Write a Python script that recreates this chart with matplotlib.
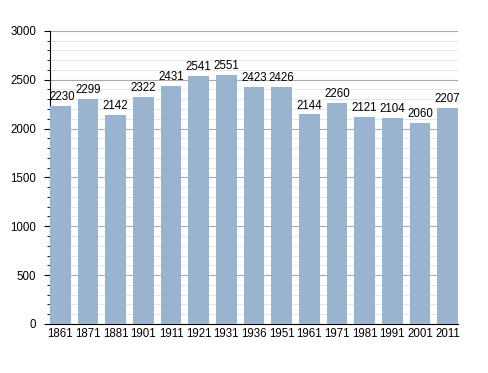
import matplotlib
matplotlib.use("Agg")
import matplotlib.pyplot as plt
from matplotlib.ticker import MultipleLocator

plt.rcParams["font.family"] = ["Liberation Sans", "DejaVu Sans"]

# Daten
years = ["1861", "1871", "1881", "1901", "1911", "1921", "1931", "1936",
         "1951", "1961", "1971", "1981", "1991", "2001", "2011"]
population = [2230, 2299, 2142, 2322, 2431, 2541, 2551, 2423,
              2426, 2144, 2260, 2121, 2104, 2060, 2207]

fig = plt.figure(figsize=(4.88, 3.73), dpi=100)
ax = fig.add_axes([0.1025, 0.1314, 0.836, 0.786])

width = 0.75
x = range(len(years))
ax.bar(x, population, width=width, color="#9ab3cf", zorder=3)

# Werte über die Balken
for i, v in enumerate(population):
    ax.text(i + (0.06 if i == 0 else 0), v + 30, str(v), ha="center", va="bottom",
            fontsize=8.3, zorder=4)

ax.set_xlim(-width / 2, len(years) - 1 + width / 2)
ax.set_ylim(0, 3000)
ax.set_xticks(list(x))
ax.set_xticklabels(years, fontsize=8.3)
ax.tick_params(axis="x", length=0, pad=3)

ax.yaxis.set_major_locator(MultipleLocator(500))
ax.yaxis.set_minor_locator(MultipleLocator(100))
ax.tick_params(axis="y", which="major", labelsize=8.3, length=4, pad=6, direction="out")
ax.tick_params(axis="y", which="minor", length=2, direction="out")

ax.grid(axis="y", which="major", color="#aaaaaa", linewidth=0.8, zorder=0)
ax.grid(axis="y", which="minor", color="#e2e2e2", linewidth=0.6, zorder=0)

ax.spines["top"].set_visible(False)
ax.spines["right"].set_visible(False)
ax.spines["left"].set_linewidth(0.8)
ax.spines["bottom"].set_linewidth(0.8)

fig.savefig("out.png", dpi=100)
